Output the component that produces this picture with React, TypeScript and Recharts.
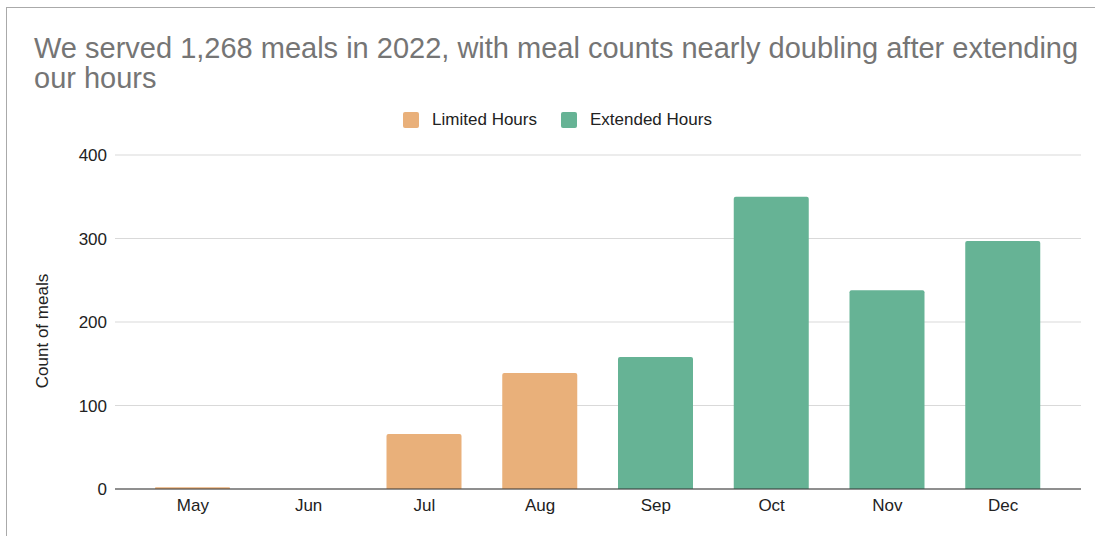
import React from 'react';
import { BarChart, Bar, XAxis, YAxis, CartesianGrid } from 'recharts';

const titleLine1 = 'We served 1,268 meals in 2022, with meal counts nearly doubling after extending';
const titleLine2 = 'our hours';
const months = ['May', 'Jun', 'Jul', 'Aug', 'Sep', 'Oct', 'Nov', 'Dec'];
const limitedHours = [2, 0, 66, 139, null, null, null, null];
const extendedHours = [null, null, null, null, 158, 350, 238, 297];
const yTicks = [0, 100, 200, 300, 400];
const seriesNames = ['Limited Hours', 'Extended Hours'];
const seriesColors = ['#E9B07A', '#66B395'];
const yAxisTitle = 'Count of meals';

const data = months.map((m, i) => ({ month: m, limited: limitedHours[i], extended: extendedHours[i] }));

const FONT = '"Liberation Sans", Arial, sans-serif';

const YLabel = (props: any) => {
  const vb = props.viewBox || { x: 0, y: 0, width: 0, height: 0 };
  const cx = vb.x + 42;
  const cy = vb.y + vb.height / 2 + 9;
  return (
    <text
      x={cx}
      y={cy}
      transform={`rotate(-90 ${cx} ${cy})`}
      textAnchor="middle"
      dominantBaseline="central"
      fontSize={17}
      fill="#222"
      fontFamily={FONT}
    >
      {yAxisTitle}
    </text>
  );
};

export default function App() {
  return (
    <div
      style={{
        position: 'absolute',
        left: 0,
        top: 0,
        width: 1095,
        height: 536,
        background: '#fff',
        overflow: 'hidden',
        fontFamily: FONT,
      }}
    >
      <div
        style={{
          position: 'absolute',
          left: 6,
          top: 7,
          width: 2000,
          height: 2000,
          borderTop: '1px solid #aaa',
          borderLeft: '1px solid #aaa',
        }}
      />
      <div
        style={{
          position: 'absolute',
          left: 34,
          top: 33,
          fontSize: 29,
          lineHeight: '30px',
          color: '#757575',
          whiteSpace: 'nowrap',
        }}
      >
        {titleLine1}
        <br />
        {titleLine2}
      </div>
      <div
        style={{
          position: 'absolute',
          left: 20,
          width: 1075,
          top: 110,
          display: 'flex',
          justifyContent: 'center',
          alignItems: 'center',
          fontSize: 17,
          color: '#222',
          height: 20,
        }}
      >
        {seriesNames.map((n, i) => (
          <div key={n} style={{ display: 'flex', alignItems: 'center', marginLeft: i === 0 ? 0 : 24 }}>
            <div
              style={{
                width: 16,
                height: 16,
                borderRadius: 2,
                background: seriesColors[i],
                marginRight: 13,
              }}
            />
            <span>{n}</span>
          </div>
        ))}
      </div>
      <div style={{ position: 'absolute', left: 0, top: 0 }}>
        <BarChart
          width={1095}
          height={536}
          data={data}
          margin={{ top: 155, right: 14, bottom: 0, left: 0 }}
        >
          <CartesianGrid vertical={false} stroke="#d9d9d9" />
          <XAxis
            dataKey="month"
            height={47}
            padding={{ left: 20, right: 20 }}
            tickLine={false}
            tickSize={0}
            tickMargin={10}
            axisLine={{ stroke: '#333' }}
            tick={{ fontSize: 17, fill: '#222', fontFamily: FONT }}
          />
          <YAxis
            width={115}
            domain={[0, 400]}
            ticks={yTicks}
            tickLine={false}
            tickSize={0}
            tickMargin={8}
            axisLine={false}
            tick={{ fontSize: 17, fill: '#222', fontFamily: FONT }}
            label={<YLabel />}
          />
          <Bar
            dataKey="limited"
            name={seriesNames[0]}
            stackId="a"
            fill={seriesColors[0]}
            barSize={75}
            radius={[2, 2, 0, 0]}
            isAnimationActive={false}
          />
          <Bar
            dataKey="extended"
            name={seriesNames[1]}
            stackId="a"
            fill={seriesColors[1]}
            barSize={75}
            radius={[2, 2, 0, 0]}
            isAnimationActive={false}
          />
        </BarChart>
      </div>
    </div>
  );
}
